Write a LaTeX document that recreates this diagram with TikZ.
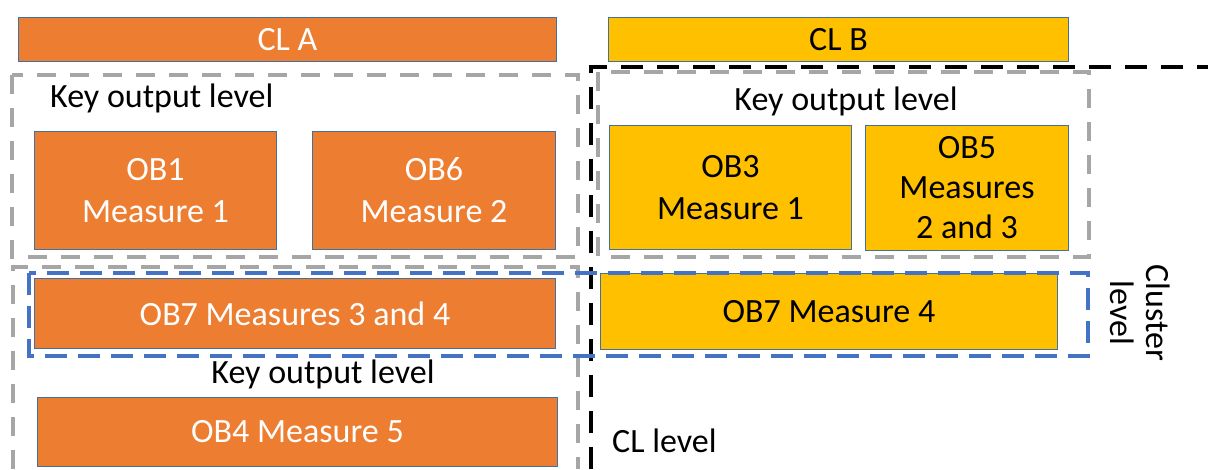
\documentclass[tikz,border=0pt]{standalone}
\usepackage{fontspec}
\setmainfont{Carlito}
\definecolor{orangec}{HTML}{ED7D31}
\definecolor{goldc}{HTML}{FFC000}
\definecolor{boxedge}{HTML}{41719C}
\definecolor{grayd}{HTML}{A6A6A6}
\definecolor{blued}{HTML}{4472C4}
\newcommand\dgfont{\fontsize{34}{42}\selectfont}
\tikzset{
  box/.style={draw=boxedge, line width=1pt, inner sep=0pt, align=center, font=\dgfont, anchor=north west},
  orangebox/.style={box, fill=orangec, text=white},
  yellowbox/.style={box, fill=goldc, text=black},
  lbl/.style={font=\dgfont, text=black, inner sep=0pt},
  graydash/.style={draw=grayd, line width=3.5pt, dash pattern=on 19pt off 14pt},
  bluedash/.style={draw=blued, line width=3.5pt, dash pattern=on 22pt off 11pt},
  blackdash/.style={draw=black, line width=4pt, dash pattern=on 22pt off 14pt},
}
\begin{document}
\begin{tikzpicture}[x=1pt,y=-1pt]
\useasboundingbox (0,0) rectangle (1208,469);
% dashed frames
\draw[graydash] (12,75) rectangle (578,257);
\draw[graydash] (598,72) rectangle (1089,257);
\draw[graydash] (13,469) -- (13,267) -- (578,267) -- (578,469);
\draw[blackdash] (591,469) -- (591,67) -- (1208,67);
% boxes
\node[orangebox, minimum width=538pt, minimum height=44pt] (cla) at (18,17) {CL A};
\node[yellowbox, minimum width=460pt, minimum height=44pt] (clb) at (608,17) {CL B};
\node[orangebox, minimum width=242pt, minimum height=118pt] (ob1) at (34,131) {OB1\\Measure 1};
\node[orangebox, minimum width=243pt, minimum height=118pt] (ob6) at (312,131) {OB6\\Measure 2};
\node[yellowbox, minimum width=242pt, minimum height=124pt] (ob3) at (609,125) {OB3\\Measure 1};
\node[yellowbox, minimum width=203pt, minimum height=125pt, font=\fontsize{34}{40}\selectfont] (ob5) at (865,125) {OB5\\Measures\\2 and 3};
\node[orangebox, minimum width=521pt, minimum height=70pt] (ob7a) at (34,278) {OB7 Measures 3 and 4};
\node[yellowbox, minimum width=457pt, minimum height=76pt] (ob7b) at (600,273) {OB7 Measure 4};
\node[orangebox, minimum width=520pt, minimum height=69pt] (ob4) at (37,397) {OB4 Measure 5};
\draw[bluedash] (29,273) rectangle (1088,356);
% labels
\node[lbl, anchor=west] (k1) at (50,98) {Key output level};
\node[lbl] (k2) at (846,101) {Key output level};
\node[lbl] (k3) at (323,374) {Key output level};
\node[lbl, rotate=-90, align=center, font=\fontsize{34}{36}\selectfont] (cluster) at (1140,313) {Cluster\\level};
\node[lbl, anchor=west] (cll) at (612,441) {CL level};
\end{tikzpicture}
\end{document}
